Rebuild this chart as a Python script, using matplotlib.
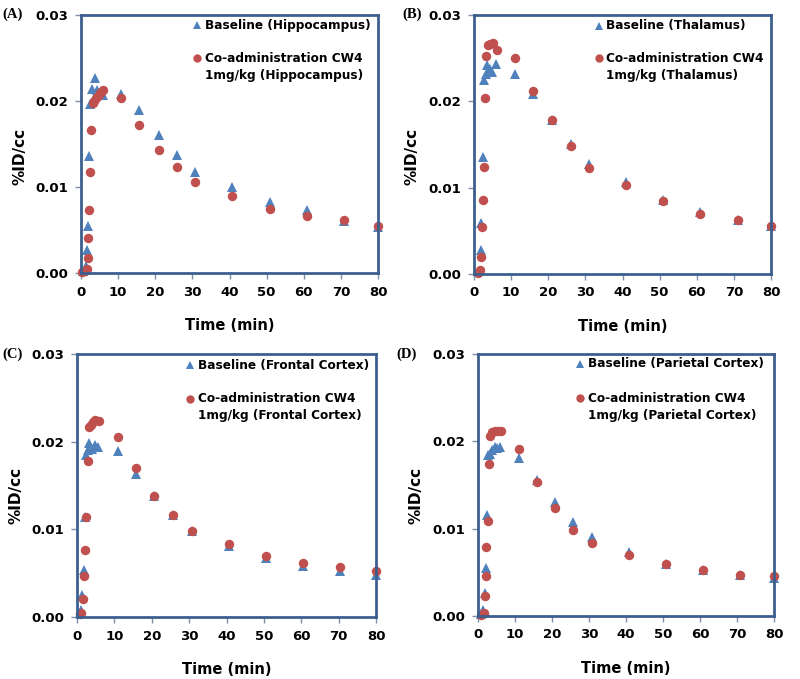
import matplotlib
matplotlib.use("Agg")
import matplotlib.pyplot as plt
from matplotlib.ticker import FormatStrFormatter

# ---------------- data ----------------
regions = ["Hippocampus", "Thalamus", "Frontal Cortex", "Parietal Cortex"]
panel_labels = ["(A)", "(B)", "(C)", "(D)"]

# (A) Hippocampus
a_base_t = [0.6, 1.35, 1.7, 1.9, 2.2, 2.4, 3.0, 3.8, 4.2, 5.1, 5.8, 10.8, 15.7, 20.9, 25.8, 30.8, 40.8, 50.8, 60.9, 70.8, 80.0]
a_base_v = [0.0002, 0.0008, 0.0027, 0.0055, 0.01355, 0.0197, 0.0214, 0.0227, 0.0213, 0.0211, 0.0207, 0.0208, 0.0190, 0.0160, 0.01367, 0.01173, 0.01003, 0.00825, 0.00728, 0.0060, 0.0053]
a_co_t = [0.4, 1.1, 1.5, 1.8, 2.0, 2.25, 2.5, 2.8, 3.1, 3.5, 4.0, 4.5, 5.0, 5.5, 6.0, 10.8, 15.7, 20.9, 25.8, 30.8, 40.8, 50.8, 60.9, 70.8, 80.0]
a_co_v = [0.0001, 0.0002, 0.0005, 0.0017, 0.0041, 0.0073, 0.0117, 0.0166, 0.0198, 0.0200, 0.0203, 0.0206, 0.0209, 0.0211, 0.0213, 0.0204, 0.0172, 0.0143, 0.0123, 0.0106, 0.0089, 0.0075, 0.0066, 0.0062, 0.0055]

# (B) Thalamus
b_base_t = [1.4, 1.8, 1.9, 2.3, 2.7, 3.2, 3.6, 4.2, 4.8, 5.9, 11.0, 16.0, 21.0, 26.0, 31.0, 41.0, 51.0, 61.0, 71.0, 80.0]
b_base_v = [0.0003, 0.0028, 0.0059, 0.0135, 0.0225, 0.0232, 0.0242, 0.0237, 0.0234, 0.0243, 0.0232, 0.0209, 0.0178, 0.0151, 0.0127, 0.0107, 0.0086, 0.0072, 0.0063, 0.0056]
b_co_t = [1.2, 1.6, 1.8, 2.1, 2.3, 2.7, 3.0, 3.2, 3.7, 4.3, 5.0, 6.1, 11.0, 16.0, 21.0, 26.0, 31.0, 41.0, 51.0, 61.0, 71.0, 80.0]
b_co_v = [0.0001, 0.0005, 0.0020, 0.0055, 0.0086, 0.0124, 0.0204, 0.0253, 0.0265, 0.0266, 0.0268, 0.0259, 0.0250, 0.0212, 0.0178, 0.0148, 0.0123, 0.0103, 0.0085, 0.0070, 0.0063, 0.0056]

# (C) Frontal Cortex
c_base_t = [0.9, 1.2, 1.4, 1.8, 2.2, 2.5, 3.0, 3.3, 4.0, 4.7, 5.7, 10.9, 15.7, 20.7, 25.7, 30.7, 40.6, 50.6, 60.5, 70.4, 80.0]
c_base_v = [0.0005, 0.0008, 0.0025, 0.0054, 0.0114, 0.0185, 0.0191, 0.0198, 0.0192, 0.0196, 0.0194, 0.0189, 0.0163, 0.0138, 0.0116, 0.0098, 0.0081, 0.0067, 0.0058, 0.0052, 0.0048]
c_co_t = [0.7, 1.2, 1.6, 1.8, 2.2, 2.5, 2.9, 3.2, 3.7, 4.3, 4.9, 5.8, 10.9, 15.7, 20.7, 25.7, 30.7, 40.6, 50.6, 60.5, 70.4, 80.0]
c_co_v = [0.0003, 0.0005, 0.0021, 0.0047, 0.0076, 0.0114, 0.0178, 0.0217, 0.0219, 0.0222, 0.0225, 0.0224, 0.0205, 0.0170, 0.0138, 0.0116, 0.0098, 0.0083, 0.0070, 0.0062, 0.0057, 0.0052]

# (D) Parietal Cortex
d_base_t = [0.9, 1.35, 1.8, 2.1, 2.4, 2.6, 3.2, 3.9, 4.5, 5.2, 5.9, 11.1, 15.9, 20.8, 25.8, 30.8, 40.8, 50.9, 60.9, 70.9, 80.0]
d_base_v = [0.0002, 0.0007, 0.0026, 0.0055, 0.0116, 0.0184, 0.0186, 0.0190, 0.0193, 0.0192, 0.0193, 0.0181, 0.0156, 0.0130, 0.0108, 0.0091, 0.0073, 0.0060, 0.0053, 0.0047, 0.0044]
d_co_t = [0.9, 1.5, 1.8, 2.1, 2.25, 2.7, 3.0, 3.3, 3.9, 4.5, 5.4, 6.1, 11.1, 15.9, 20.8, 25.8, 30.8, 40.8, 50.9, 60.9, 70.9, 80.0]
d_co_v = [0.0001, 0.0004, 0.0023, 0.0046, 0.0079, 0.0109, 0.0174, 0.0206, 0.0211, 0.0212, 0.0212, 0.0212, 0.0191, 0.0154, 0.0124, 0.0099, 0.0084, 0.0070, 0.0059, 0.0053, 0.0047, 0.0046]

base_t = [a_base_t, b_base_t, c_base_t, d_base_t]
base_v = [a_base_v, b_base_v, c_base_v, d_base_v]
co_t = [a_co_t, b_co_t, c_co_t, d_co_t]
co_v = [a_co_v, b_co_v, c_co_v, d_co_v]

x_ticks = [0, 10, 20, 30, 40, 50, 60, 70, 80]
y_ticks = [0.00, 0.01, 0.02, 0.03]

# ---------------- layout ----------------
W, H = 800, 679
fig = plt.figure(figsize=(W / 100, H / 100), dpi=100)
# axes boxes in pixels: (left, top, right, bottom)
boxes = [(81, 15, 378, 273), (474, 15, 771, 274), (77, 354, 376, 617), (478, 354, 774, 616)]
label_pos = [(2, 14), (402, 14), (2, 354), (396, 354)]
# legend layout in pixels: marker x, text x, row y (entry 1, entry 2 line 1, entry 2 line 2)
legend_px = [(197, 205, (25, 58, 75)), (599, 606, (26, 58, 75)),
             (190, 198, (365, 399, 416)), (580, 588, (364, 398, 415))]

BLUE = "#4F81BD"
RED = "#C0504D"
FRAME = "#3C5F8E"
FONT = "DejaVu Sans"

for i in range(4):
    l, t, r, b = boxes[i]
    ax = fig.add_axes([l / W, 1 - b / H, (r - l) / W, (b - t) / H])
    ax.plot(base_t[i], base_v[i], linestyle="none", marker="^", color=BLUE,
            markersize=6.5, markeredgewidth=0, zorder=3, clip_on=False)
    ax.plot(co_t[i], co_v[i], linestyle="none", marker="o", color=RED,
            markersize=6.8, markeredgewidth=0, zorder=4, clip_on=False)
    ax.set_xlim(0, 80)
    ax.set_ylim(0, 0.03)
    ax.set_xticks(x_ticks)
    ax.set_yticks(y_ticks)
    ax.yaxis.set_major_formatter(FormatStrFormatter("%.2f"))
    for s in ax.spines.values():
        s.set_color(FRAME)
        s.set_linewidth(2.0)
        s.set_zorder(5)
    ax.tick_params(axis="both", direction="out", length=4, width=1, color="#7f8fa6",
                   labelsize=9.5, pad=5, top=False, right=False)
    for lab in ax.get_xticklabels() + ax.get_yticklabels():
        lab.set_fontweight("bold")
        lab.set_fontfamily(FONT)
    ax.set_xlabel("Time (min)", fontsize=10.5, fontweight="bold", family=FONT, labelpad=14)
    ax.set_ylabel("%ID/cc", fontsize=11, fontweight="bold", family=FONT)
    ax.yaxis.set_label_coords(-54 / (r - l), (b - (t + 141)) / (b - t))

    # legend, drawn manually so the marker sits on the first text line
    mx, tx, rows = legend_px[i]
    def fx(px):
        return (px - l) / (r - l)
    def fy(py):
        return (b - py) / (b - t)
    ax.plot([fx(mx)], [fy(rows[0])], marker="^", color=BLUE, markersize=6,
            markeredgewidth=0, transform=ax.transAxes, clip_on=False)
    ax.plot([fx(mx)], [fy(rows[1])], marker="o", color=RED, markersize=6,
            markeredgewidth=0, transform=ax.transAxes, clip_on=False)
    tkw = dict(transform=ax.transAxes, fontsize=8.7, fontweight="bold", family=FONT,
               ha="left", va="center")
    ax.text(fx(tx), fy(rows[0]), f"Baseline ({regions[i]})", **tkw)
    ax.text(fx(tx), fy(rows[1]), "Co-administration CW4", **tkw)
    ax.text(fx(tx), fy(rows[2]), f"1mg/kg ({regions[i]})", **tkw)

    lx, ly = label_pos[i]
    fig.text(lx / W, 1 - ly / H, panel_labels[i], fontsize=10.5, fontweight="bold",
             family="Liberation Serif", ha="left", va="center")

fig.savefig("out.png", dpi=100, facecolor="white")
